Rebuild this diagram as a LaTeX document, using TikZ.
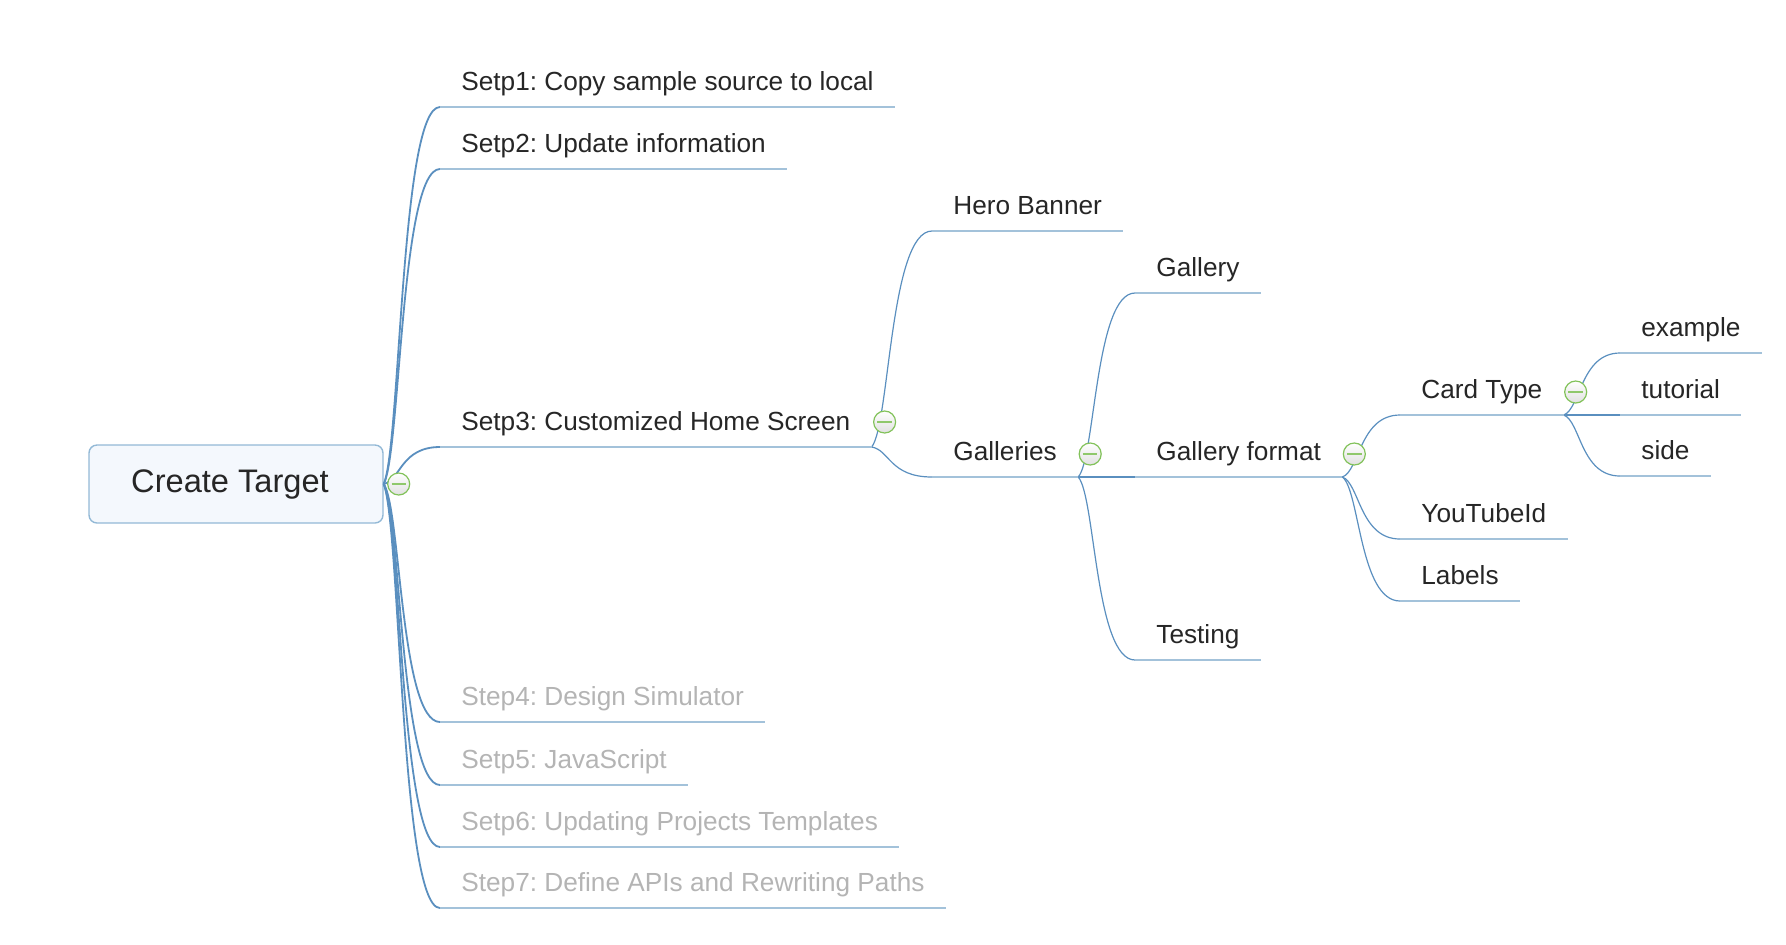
\documentclass[tikz,border=0pt]{standalone}
\usepackage{fontspec}
\setmainfont{Liberation Sans}
\usepackage{tikz}
\usetikzlibrary{positioning,calc}
\frenchspacing

\definecolor{ink}{HTML}{262626}
\definecolor{faded}{HTML}{B4B4B4}
\definecolor{linkblue}{HTML}{5A8FBF}
\definecolor{ulineblue}{HTML}{A3C2DA}
\definecolor{rootfill}{HTML}{F4F8FD}
\definecolor{rootdraw}{HTML}{93B9D6}
\definecolor{foldgreen}{HTML}{82C25A}

\tikzset{
    topic/.style={anchor=south west, inner xsep=10.5pt, inner ysep=8pt, text depth=0pt,
        font=\fontsize{13.1pt}{15pt}\selectfont, text=ink},
    later/.style={topic, text=faded},
    rootbox/.style={draw=rootdraw, line width=0.7pt, fill=rootfill, rounded corners=4pt,
        minimum width=147pt, minimum height=39pt, text=ink,
        font=\fontsize{16.3pt}{19pt}\selectfont},
    uline/.style={ulineblue, line width=1pt},
    branch/.style={linkblue, line width=0.6pt, to path={let \p1=(\tikztostart), \p2=(\tikztotarget) in
        .. controls ({\x1+0.3*(\x2-\x1)},{\y1+0.1*(\y2-\y1)}) and ({\x1+0.3*(\x2-\x1)},\y2) .. (\tikztotarget)}},
    fold/.style={circle, draw=foldgreen, line width=0.6pt, minimum size=11pt, inner sep=0pt,
        top color=white, bottom color=black!12,
        path picture={\draw[foldgreen!90, line width=1pt]
            ([xshift=-3.6pt]path picture bounding box.center) -- ([xshift=3.6pt]path picture bounding box.center);}}
}

\begin{document}
\begin{tikzpicture}[x=0.5pt, y=-0.5pt]
    \useasboundingbox (0,0) rectangle (1786,944);

    % Root
    \node[rootbox] (root) at (236,484) {Create Target\kern6pt};

    % Steps
    \node[topic] (s1) at (440,107) {Setp1: Copy sample source to local};
    \node[topic] (s2) at (440,169) {Setp2: Update information};
    \node[topic] (s3) at (440,447) {Setp3: Customized Home Screen};
    \node[later] (s4) at (440,722) {Step4: Design Simulator};
    \node[later] (s5) at (440,785) {Setp5: JavaScript};
    \node[later] (s6) at (440,847) {Setp6: Updating Projects Templates};
    \node[later] (s7) at (440,908) {Step7: Define APIs and Rewriting Paths};

    % Home screen parts
    \node[topic] (hero) at (932,231) {Hero Banner};
    \node[topic] (galleries) at (932,477) {Galleries};
    \node[topic] (gallery) at (1135,293) {Gallery};
    \node[topic] (gformat) at (1135,477) {Gallery format};
    \node[topic] (testing) at (1135,660) {Testing};
    \node[topic] (cardtype) at (1400,415) {Card Type};
    \node[topic] (youtube) at (1400,539) {YouTubeId};
    \node[topic] (labels) at (1400,601) {Labels};
    \node[topic] (example) at (1620,353) {example};
    \node[topic] (tutorial) at (1620,415) {tutorial};
    \node[topic] (side) at (1620,476) {side};

    % Connectors
    \foreach \k in {s1,s2,s3,s4,s5,s6,s7} {
        \draw[branch, line width=0.9pt] (root.east) to (\k.south west);
    }
    \foreach \a/\b in {s3/hero, s3/galleries, galleries/gallery, galleries/gformat, galleries/testing,
        gformat/cardtype, gformat/youtube, gformat/labels, cardtype/example, cardtype/tutorial, cardtype/side} {
        \draw[branch] (\a.south east) to (\b.south west);
    }

    % Underlines
    \foreach \k in {s1,s2,s3,s4,s5,s6,s7,hero,galleries,gallery,gformat,testing,cardtype,youtube,labels,example,tutorial,side} {
        \draw[uline] (\k.south west) -- (\k.south east);
    }

    % Fold buttons
    \node[fold] (rootfold) at ($(root.east)+(15,0)$) {};
    \node[fold] (s3fold) at ($(s3.south east)+(13,-25)$) {};
    \node[fold] (galleriesfold) at ($(galleries.south east)+(12,-23)$) {};
    \node[fold] (gformatfold) at ($(gformat.south east)+(12,-23)$) {};
    \node[fold] (cardtypefold) at ($(cardtype.south east)+(12,-23)$) {};
\end{tikzpicture}
\end{document}
